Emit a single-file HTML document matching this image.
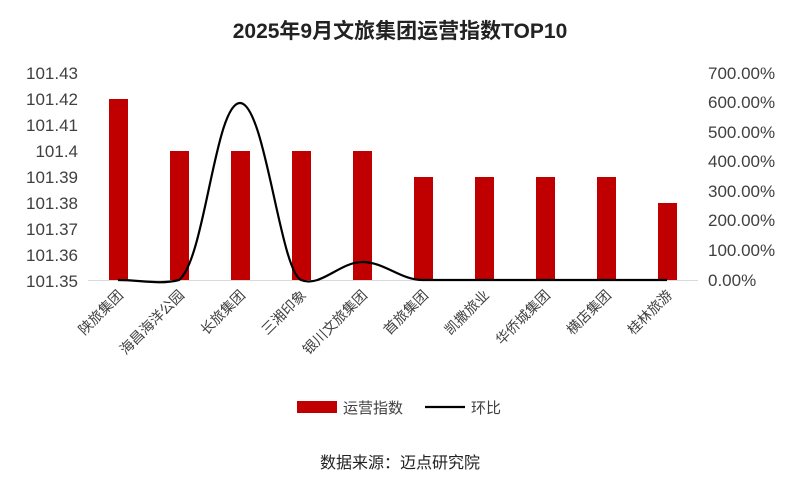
<!DOCTYPE html>
<html><head><meta charset="utf-8"><style>
body{margin:0;background:#fff;}
svg{display:block;font-family:"Liberation Sans","Noto Sans CJK SC",sans-serif;}
</style></head><body>
<svg width="800" height="498" viewBox="0 0 800 498" xmlns="http://www.w3.org/2000/svg">
<rect width="800" height="498" fill="#fff"/>
<text x="400" y="38" text-anchor="middle" font-size="21" font-weight="bold" fill="#222">2025年9月文旅集团运营指数TOP10</text>
<g font-size="17" fill="#404040" text-anchor="end">
<text x="78" y="79">101.43</text><text x="78" y="131">101.41</text><text x="78" y="105">101.42</text>
<text x="78" y="157">101.4</text><text x="78" y="183">101.39</text><text x="78" y="209">101.38</text>
<text x="78" y="235">101.37</text><text x="78" y="261">101.36</text><text x="78" y="287">101.35</text>
</g>
<g font-size="17" fill="#404040" text-anchor="start">
<text x="708" y="79">700.00%</text><text x="708" y="108">600.00%</text><text x="708" y="138">500.00%</text>
<text x="708" y="167">400.00%</text><text x="708" y="197">300.00%</text><text x="708" y="226">200.00%</text>
<text x="708" y="256">100.00%</text><text x="708" y="286">0.00%</text>
</g>
<g fill="#c00000">
<rect x="109" y="99" width="19" height="181"/>
<rect x="170" y="151" width="19" height="129"/>
<rect x="231" y="151" width="19" height="129"/>
<rect x="292" y="151" width="19" height="129"/>
<rect x="353" y="151" width="19" height="129"/>
<rect x="414" y="177" width="19" height="103"/>
<rect x="475" y="177" width="19" height="103"/>
<rect x="536" y="177" width="19" height="103"/>
<rect x="597" y="177" width="19" height="103"/>
<rect x="658" y="203" width="19" height="77"/>
</g>
<line x1="88" y1="280.5" x2="698" y2="280.5" stroke="#d9d9d9"/>
<path d="M118,280 C140,280 160,285 179,280 C205,260 215,103 240,103 C265,103 280,270 301,280 C320,288 340,262 362,262 C385,262 400,280 423,280 L667,280" fill="none" stroke="#000" stroke-width="2.2"/>
<g font-size="14" fill="#404040" text-anchor="end">
<text transform="translate(124,296) rotate(-45)">陕旅集团</text>
<text transform="translate(185,296) rotate(-45)">海昌海洋公园</text>
<text transform="translate(246,296) rotate(-45)">长旅集团</text>
<text transform="translate(307,296) rotate(-45)">三湘印象</text>
<text transform="translate(368,296) rotate(-45)">银川文旅集团</text>
<text transform="translate(429,296) rotate(-45)">首旅集团</text>
<text transform="translate(490,296) rotate(-45)">凯撒旅业</text>
<text transform="translate(551,296) rotate(-45)">华侨城集团</text>
<text transform="translate(612,296) rotate(-45)">横店集团</text>
<text transform="translate(673,296) rotate(-45)">桂林旅游</text>
</g>
<rect x="297" y="401" width="40" height="12" fill="#c00000"/>
<text x="343" y="413" font-size="15" fill="#404040">运营指数</text>
<line x1="425" y1="407" x2="465" y2="407" stroke="#000" stroke-width="2.2"/>
<text x="471" y="413" font-size="15" fill="#404040">环比</text>
<text x="400" y="468" text-anchor="middle" font-size="16" fill="#222">数据来源：迈点研究院</text>
</svg>
</body></html>
